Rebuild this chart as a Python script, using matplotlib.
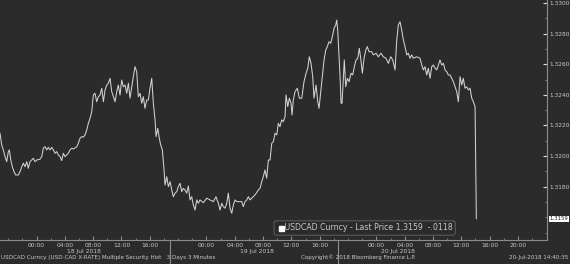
import matplotlib
matplotlib.use("Agg")
import matplotlib.pyplot as plt
import numpy as np

# hours since 18 Jul 2018 00:00 and USDCAD price
hours = [-5.16, -4.92, -4.69, -4.45, -4.21, -3.98, -3.84, -3.64, -3.42, -3.18,
         -2.94, -2.57, -2.33, -2.09, -1.86, -1.62, -1.38, -1.16, -0.92, -0.68,
         -0.45, -0.21, 0.03, 0.49, 0.73, 0.96, 1.20, 1.44, 1.67, 1.91,
         2.15, 2.37, 2.61, 2.85, 3.08, 3.32, 3.56, 3.79, 4.03, 4.27,
         4.49, 4.73, 4.97, 5.20, 5.68, 5.90, 6.14, 6.38, 6.61, 6.85,
         7.09, 7.32, 7.56, 7.80, 8.02, 8.26, 8.50, 8.73, 8.97, 9.21,
         9.44, 9.68, 9.92, 10.14, 10.38, 10.62, 10.85, 11.09, 11.33, 11.55,
         11.79, 12.03, 12.26, 12.50, 12.74, 12.97, 13.21, 13.45, 13.67, 13.91,
         14.15, 14.38, 14.62, 14.86, 15.08, 15.32, 15.56, 15.79, 16.03, 16.27,
         16.50, 16.74, 16.88, 17.12, 17.34, 17.54, 17.77, 18.01, 18.15, 18.39,
         18.62, 18.86, 19.10, 19.32, 19.56, 19.80, 20.03, 20.27, 20.51, 20.73,
         20.97, 21.21, 21.44, 21.68, 21.92, 22.15, 22.39, 22.63, 22.85, 23.09,
         23.56, 24.04, 24.51, 24.97, 25.35, 25.68, 25.92, 26.16, 26.38, 26.62,
         26.86, 27.09, 27.33, 27.57, 27.80, 28.04, 28.28, 28.74, 28.98, 29.21,
         29.45, 29.69, 29.92, 30.16, 30.40, 30.62, 30.86, 31.10, 31.33, 31.57,
         31.81, 32.03, 32.27, 32.51, 32.74, 32.98, 33.22, 33.45, 33.69, 33.93,
         34.15, 34.39, 34.63, 34.86, 35.10, 35.24, 35.48, 35.71, 35.95, 36.09,
         36.27, 36.51, 36.84, 37.12, 37.46, 37.78, 38.07, 38.31, 38.53, 38.77,
         39.01, 39.19, 39.48, 39.72, 39.90, 40.14, 40.37, 40.61, 40.85, 41.07,
         41.31, 41.55, 41.78, 42.02, 42.26, 42.40, 42.54, 42.68, 42.87, 43.01,
         43.15, 43.33, 43.47, 43.67, 43.90, 44.14, 44.42, 44.66, 44.89, 45.13,
         45.37, 45.59, 45.79, 46.02, 46.26, 46.50, 46.72, 46.96, 47.34, 47.57,
         47.95, 48.28, 48.66, 48.98, 49.36, 49.69, 50.03, 50.31, 50.64, 50.88,
         51.10, 51.34, 51.58, 51.81, 52.05, 52.29, 52.51, 52.75, 52.99, 53.22,
         53.70, 54.17, 54.41, 54.63, 54.87, 55.11, 55.34, 55.58, 55.82, 56.05,
         56.29, 56.53, 56.75, 56.99, 57.23, 57.46, 57.70, 57.94, 58.16, 58.40,
         58.64, 58.87, 59.11, 59.35, 59.58, 59.82, 60.06, 60.28, 60.52, 60.76,
         60.99, 61.23, 61.47, 61.69, 61.94, 62.12]
price = [1.32149, 1.32072, 1.32040, 1.31996, 1.31963, 1.32029, 1.32040, 1.31974, 1.31930, 1.31898,
         1.31876, 1.31876, 1.31898, 1.31930, 1.31953, 1.31930, 1.31963, 1.31920, 1.31963, 1.31974,
         1.31985, 1.31963, 1.31974, 1.31979, 1.31996, 1.32051, 1.32061, 1.32040, 1.32057, 1.32040,
         1.32057, 1.32040, 1.32018, 1.32029, 1.32007, 1.31996, 1.31970, 1.32018, 1.31996, 1.32007,
         1.32018, 1.32040, 1.32051, 1.32046, 1.32061, 1.32083, 1.32116, 1.32127, 1.32123, 1.32138,
         1.32170, 1.32214, 1.32247, 1.32290, 1.32399, 1.32410, 1.32355, 1.32388, 1.32399, 1.32443,
         1.32355, 1.32432, 1.32464, 1.32476, 1.32508, 1.32421, 1.32388, 1.32355, 1.32421, 1.32464,
         1.32399, 1.32497, 1.32453, 1.32464, 1.32410, 1.32476, 1.32378, 1.32453, 1.32519, 1.32584,
         1.32551, 1.32388, 1.32410, 1.32345, 1.32388, 1.32312, 1.32366, 1.32366, 1.32443, 1.32508,
         1.32345, 1.32236, 1.32127, 1.32181, 1.32116, 1.32072, 1.32040, 1.31909, 1.31811, 1.31865,
         1.31800, 1.31832, 1.31778, 1.31734, 1.31757, 1.31767, 1.31800, 1.31822, 1.31767, 1.31789,
         1.31778, 1.31757, 1.31804, 1.31713, 1.31734, 1.31680, 1.31647, 1.31713, 1.31691, 1.31713,
         1.31695, 1.31724, 1.31713, 1.31702, 1.31734, 1.31691, 1.31647, 1.31691, 1.31669, 1.31659,
         1.31691, 1.31757, 1.31659, 1.31626, 1.31680, 1.31713, 1.31702, 1.31702, 1.31702, 1.31669,
         1.31702, 1.31713, 1.31734, 1.31713, 1.31724, 1.31734, 1.31746, 1.31761, 1.31778, 1.31789,
         1.31832, 1.31865, 1.31909, 1.31855, 1.31974, 1.31974, 1.32083, 1.32094, 1.32149, 1.32138,
         1.32214, 1.32192, 1.32236, 1.32225, 1.32257, 1.32399, 1.32323, 1.32378, 1.32345, 1.32268,
         1.32366, 1.32421, 1.32443, 1.32378, 1.32378, 1.32486, 1.32541, 1.32574, 1.32649, 1.32606,
         1.32519, 1.32378, 1.32464, 1.32355, 1.32312, 1.32421, 1.32530, 1.32628, 1.32693, 1.32715,
         1.32747, 1.32737, 1.32780, 1.32835, 1.32857, 1.32889, 1.32824, 1.32693, 1.32519, 1.32345,
         1.32345, 1.32497, 1.32628, 1.32453, 1.32508, 1.32486, 1.32541, 1.32530, 1.32584, 1.32628,
         1.32639, 1.32704, 1.32639, 1.32541, 1.32639, 1.32693, 1.32715, 1.32682, 1.32682, 1.32661,
         1.32672, 1.32649, 1.32672, 1.32649, 1.32639, 1.32606, 1.32649, 1.32628, 1.32563, 1.32759,
         1.32857, 1.32878, 1.32824, 1.32759, 1.32715, 1.32661, 1.32672, 1.32639, 1.32661, 1.32639,
         1.32649, 1.32639, 1.32595, 1.32563, 1.32584, 1.32530, 1.32574, 1.32508, 1.32584, 1.32595,
         1.32574, 1.32563, 1.32595, 1.32628, 1.32595, 1.32606, 1.32563, 1.32551, 1.32530, 1.32530,
         1.32508, 1.32486, 1.32453, 1.32421, 1.32355, 1.32519, 1.32464, 1.32508, 1.32443, 1.32453,
         1.32432, 1.32443, 1.32378, 1.32355, 1.32323, 1.31590]

tick_hours = [0, 4, 8, 12, 16, 24, 28, 32, 36, 40, 48, 52, 56, 60, 64, 68]
tick_labels = ["00:00", "04:00", "08:00", "12:00", "16:00"] * 2 + \
              ["00:00", "04:00", "08:00", "12:00", "16:00", "20:00"]
day_breaks = [18.8, 42.6]
day_names = ["18 Jul 2018", "19 Jul 2018", "20 Jul 2018"]
day_centers = [6.7, 31.1, 51.1]
y_ticks = [1.3180, 1.3200, 1.3220, 1.3240, 1.3260, 1.3280, 1.3300]
last_price = 1.3159

bg = "#2b2b2b"
txt = "#c8c8c8"
axc = "#8c8c8c"

fig = plt.figure(figsize=(5.7, 2.64), dpi=100, facecolor=bg)
ax = fig.add_axes([0, 24 / 264, 547 / 570, 240 / 264], facecolor=bg)

ax.plot(hours, price, color="#d2d2d2", lw=0.75)

ax.set_xlim(-5.16, 72.1)
ax.set_ylim(1.31451, 1.33020)

for s in ["top", "left"]:
    ax.spines[s].set_visible(False)
for s in ["bottom", "right"]:
    ax.spines[s].set_color(axc)
    ax.spines[s].set_linewidth(0.8)

ax.set_xticks(tick_hours)
ax.set_xticklabels(tick_labels)
ax.set_xticks(np.arange(-4, 72, 2), minor=True)
ax.tick_params(axis="x", which="major", direction="in", length=3, color=axc,
               labelsize=4.3, labelcolor=txt, pad=2)
ax.tick_params(axis="x", which="minor", direction="in", length=1.5, color=axc)

ax.yaxis.tick_right()
ax.set_yticks(y_ticks)
ax.set_yticklabels([f"{v:.4f}" for v in y_ticks])
ax.set_yticks(np.arange(1.3150, 1.3301, 0.001), minor=True)
ax.tick_params(axis="y", which="major", direction="in", length=3, color="#e0e0e0",
               labelsize=4.2, labelcolor=txt, pad=1.5)
ax.tick_params(axis="y", which="minor", direction="in", length=1.5, color=axc)

for b in day_breaks:
    ax.axvline(b, ymin=-0.095, ymax=0, color=axc, lw=0.8, clip_on=False)
for c, name in zip(day_centers, day_names):
    ax.text(c, -0.05, name, transform=ax.get_xaxis_transform(), ha="center",
            va="center", fontsize=4.3, color=txt)

# last price tag on the axis
ax.text(1.004, last_price, f"{last_price:.4f}", transform=ax.get_yaxis_transform(),
        ha="left", va="center", fontsize=3.9, color="#202020",
        bbox=dict(boxstyle="square,pad=0.12", fc="white", ec="none"))

# legend box
ax.text(0.506, 0.05, "   USDCAD Curncy - Last Price 1.3159  -.0118",
        transform=ax.transAxes, ha="left", va="center", fontsize=5.6, color=txt,
        bbox=dict(boxstyle="round,pad=0.35,rounding_size=0.3", fc=bg, ec="#5a5a5a", lw=0.8))
ax.plot([0.514], [0.05], marker="s", ms=3.6, color="white", transform=ax.transAxes,
        linestyle="none", zorder=6)

fig.text(0.002, 0.015, "USDCAD Curncy (USD-CAD X-RATE) Multiple Security Hist   3 Days 3 Minutes",
         ha="left", va="bottom", fontsize=4.1, color=txt)
fig.text(0.628, 0.015, "Copyright\u00a9 2018 Bloomberg Finance L.P.",
         ha="center", va="bottom", fontsize=4.1, color=txt)
fig.text(0.997, 0.015, "20-Jul-2018 14:40:35",
         ha="right", va="bottom", fontsize=4.1, color=txt)

fig.savefig("out.png", dpi=100, facecolor=bg)
